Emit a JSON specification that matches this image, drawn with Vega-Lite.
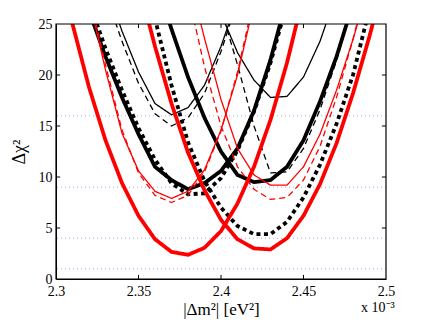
{
"$schema": "https://vega.github.io/schema/vega-lite/v6.json",
"width": 330, "height": 255,
"autosize": {"type": "none"},
"padding": {"left": 56, "top": 24, "right": 41, "bottom": 43},
"background": "white",
"config": {"view": {"stroke": null}, "font": "Liberation Serif"},
"title": {"text": "x 10⁻³", "orient": "bottom", "anchor": "end", "offset": -16, "fontSize": 14, "fontWeight": "normal", "font": "Liberation Serif", "color": "black"},
"datasets": {
"levels": [{"y": 1}, {"y": 4}, {"y": 9}, {"y": 16}],
"xticks": [{"v": 2.35}, {"v": 2.4}, {"v": 2.45}],
"yticks": [{"v": 5}, {"v": 10}, {"v": 15}, {"v": 20}],
"frame": [{"xa": 2.3, "xb": 2.5, "ya": 0, "yb": 25}],
"curves": [
{"s":"A4","x":2.31,"y":31.5},{"s":"A4","x":2.32,"y":26.3},{"s":"A4","x":2.33,"y":21.8},{"s":"A4","x":2.34,"y":17.8},{"s":"A4","x":2.35,"y":14.2},{"s":"A4","x":2.36,"y":11.0},{"s":"A4","x":2.37,"y":9.7},{"s":"A4","x":2.38,"y":8.8},{"s":"A4","x":2.39,"y":9.4},{"s":"A4","x":2.40,"y":10.6},{"s":"A4","x":2.41,"y":12.8},{"s":"A4","x":2.42,"y":16.5},{"s":"A4","x":2.43,"y":21.5},{"s":"A4","x":2.44,"y":27.5},
{"s":"A5","x":2.31,"y":32.0},{"s":"A5","x":2.32,"y":27.2},{"s":"A5","x":2.33,"y":22.6},{"s":"A5","x":2.34,"y":18.5},{"s":"A5","x":2.35,"y":14.8},{"s":"A5","x":2.36,"y":11.7},{"s":"A5","x":2.37,"y":9.4},{"s":"A5","x":2.38,"y":8.3},{"s":"A5","x":2.39,"y":8.4},{"s":"A5","x":2.40,"y":9.9},{"s":"A5","x":2.41,"y":12.6},{"s":"A5","x":2.42,"y":16.4},{"s":"A5","x":2.43,"y":21.2},{"s":"A5","x":2.44,"y":27.0},
{"s":"A6","x":2.33,"y":29.0},{"s":"A6","x":2.34,"y":24.3},{"s":"A6","x":2.35,"y":20.3},{"s":"A6","x":2.36,"y":17.2},{"s":"A6","x":2.37,"y":16.1},{"s":"A6","x":2.38,"y":16.8},{"s":"A6","x":2.39,"y":19.0},{"s":"A6","x":2.40,"y":22.8},{"s":"A6","x":2.41,"y":27.5},
{"s":"A7","x":2.33,"y":28.0},{"s":"A7","x":2.34,"y":23.3},{"s":"A7","x":2.35,"y":19.2},{"s":"A7","x":2.36,"y":16.2},{"s":"A7","x":2.37,"y":15.0},{"s":"A7","x":2.38,"y":15.8},{"s":"A7","x":2.39,"y":18.2},{"s":"A7","x":2.40,"y":22.3},{"s":"A7","x":2.41,"y":27.3},
{"s":"B4","x":2.36,"y":29.5},{"s":"B4","x":2.37,"y":24.5},{"s":"B4","x":2.38,"y":19.8},{"s":"B4","x":2.39,"y":15.8},{"s":"B4","x":2.40,"y":12.5},{"s":"B4","x":2.41,"y":10.2},{"s":"B4","x":2.42,"y":9.5},{"s":"B4","x":2.43,"y":9.7},{"s":"B4","x":2.44,"y":11.0},{"s":"B4","x":2.45,"y":13.6},{"s":"B4","x":2.46,"y":17.4},{"s":"B4","x":2.47,"y":21.8},{"s":"B4","x":2.48,"y":27.0},
{"s":"B5","x":2.35,"y":32.0},{"s":"B5","x":2.36,"y":25.5},{"s":"B5","x":2.37,"y":19.0},{"s":"B5","x":2.38,"y":13.4},{"s":"B5","x":2.39,"y":9.6},{"s":"B5","x":2.40,"y":7.0},{"s":"B5","x":2.41,"y":5.2},{"s":"B5","x":2.42,"y":4.4},{"s":"B5","x":2.43,"y":4.4},{"s":"B5","x":2.44,"y":5.6},{"s":"B5","x":2.45,"y":8.0},{"s":"B5","x":2.46,"y":11.2},{"s":"B5","x":2.47,"y":15.2},{"s":"B5","x":2.48,"y":20.0},{"s":"B5","x":2.49,"y":26.5},
{"s":"B6","x":2.39,"y":31.0},{"s":"B6","x":2.40,"y":26.0},{"s":"B6","x":2.41,"y":22.2},{"s":"B6","x":2.42,"y":19.5},{"s":"B6","x":2.43,"y":17.8},{"s":"B6","x":2.44,"y":17.9},{"s":"B6","x":2.45,"y":19.8},{"s":"B6","x":2.46,"y":23.3},{"s":"B6","x":2.47,"y":28.0},
{"s":"B7","x":2.39,"y":32.0},{"s":"B7","x":2.40,"y":26.5},{"s":"B7","x":2.41,"y":21.0},{"s":"B7","x":2.42,"y":15.0},{"s":"B7","x":2.43,"y":10.4},{"s":"B7","x":2.44,"y":10.5},{"s":"B7","x":2.45,"y":12.8},{"s":"B7","x":2.46,"y":16.6},{"s":"B7","x":2.47,"y":21.4},{"s":"B7","x":2.48,"y":27.0},
{"s":"A2","x":2.32,"y":27.5},{"s":"A2","x":2.33,"y":20.5},{"s":"A2","x":2.34,"y":14.3},{"s":"A2","x":2.35,"y":10.6},{"s":"A2","x":2.36,"y":8.6},{"s":"A2","x":2.37,"y":7.9},{"s":"A2","x":2.38,"y":8.6},{"s":"A2","x":2.39,"y":10.7},{"s":"A2","x":2.40,"y":14.6},{"s":"A2","x":2.41,"y":20.0},{"s":"A2","x":2.42,"y":27.0},
{"s":"A3","x":2.32,"y":28.0},{"s":"A3","x":2.33,"y":21.0},{"s":"A3","x":2.34,"y":14.6},{"s":"A3","x":2.35,"y":10.4},{"s":"A3","x":2.36,"y":8.2},{"s":"A3","x":2.37,"y":7.5},{"s":"A3","x":2.38,"y":8.2},{"s":"A3","x":2.39,"y":10.5},{"s":"A3","x":2.40,"y":14.5},{"s":"A3","x":2.41,"y":20.3},{"s":"A3","x":2.42,"y":27.5},
{"s":"B2","x":2.38,"y":30.0},{"s":"B2","x":2.39,"y":23.6},{"s":"B2","x":2.40,"y":17.6},{"s":"B2","x":2.41,"y":12.8},{"s":"B2","x":2.42,"y":10.2},{"s":"B2","x":2.43,"y":9.2},{"s":"B2","x":2.44,"y":9.2},{"s":"B2","x":2.45,"y":11.0},{"s":"B2","x":2.46,"y":14.2},{"s":"B2","x":2.47,"y":18.5},{"s":"B2","x":2.48,"y":23.5},{"s":"B2","x":2.49,"y":29.0},
{"s":"B3","x":2.37,"y":35.0},{"s":"B3","x":2.38,"y":28.0},{"s":"B3","x":2.39,"y":20.8},{"s":"B3","x":2.40,"y":15.0},{"s":"B3","x":2.41,"y":11.0},{"s":"B3","x":2.42,"y":8.8},{"s":"B3","x":2.43,"y":7.8},{"s":"B3","x":2.44,"y":8.0},{"s":"B3","x":2.45,"y":9.7},{"s":"B3","x":2.46,"y":13.0},{"s":"B3","x":2.47,"y":17.8},{"s":"B3","x":2.48,"y":23.5},{"s":"B3","x":2.49,"y":30.0},
{"s":"A1","x":2.30,"y":32.2},{"s":"A1","x":2.31,"y":25.0},{"s":"A1","x":2.32,"y":18.8},{"s":"A1","x":2.33,"y":13.6},{"s":"A1","x":2.34,"y":9.4},{"s":"A1","x":2.35,"y":6.2},{"s":"A1","x":2.36,"y":3.9},{"s":"A1","x":2.37,"y":2.66},{"s":"A1","x":2.38,"y":2.37},{"s":"A1","x":2.39,"y":3.06},{"s":"A1","x":2.40,"y":4.7},{"s":"A1","x":2.41,"y":7.4},{"s":"A1","x":2.42,"y":11.0},{"s":"A1","x":2.43,"y":15.6},{"s":"A1","x":2.44,"y":21.2},{"s":"A1","x":2.45,"y":27.8},
{"s":"B1","x":2.35,"y":29.0},{"s":"B1","x":2.36,"y":22.8},{"s":"B1","x":2.37,"y":17.2},{"s":"B1","x":2.38,"y":12.4},{"s":"B1","x":2.39,"y":8.7},{"s":"B1","x":2.40,"y":5.8},{"s":"B1","x":2.41,"y":3.9},{"s":"B1","x":2.42,"y":3.0},{"s":"B1","x":2.43,"y":2.9},{"s":"B1","x":2.44,"y":4.0},{"s":"B1","x":2.45,"y":6.2},{"s":"B1","x":2.46,"y":9.3},{"s":"B1","x":2.47,"y":13.3},{"s":"B1","x":2.48,"y":18.2},{"s":"B1","x":2.49,"y":23.8},{"s":"B1","x":2.50,"y":30.0}
]
},
"layer": [
{
"data": {"name": "levels"},
"mark": {"type": "rule", "color": "#6a6aff", "strokeWidth": 1, "strokeDash": [1, 3], "opacity": 0.6},
"encoding": {"y": {"field": "y", "type": "quantitative", "scale": {"domain": [0, 25], "nice": false}, "axis": null}}
},
{
"data": {"name": "curves"},
"mark": {"type": "line", "clip": true, "strokeCap": "butt", "strokeJoin": "round"},
"encoding": {
"x": {"field": "x", "type": "quantitative", "scale": {"domain": [2.3, 2.5], "nice": false, "zero": false},
"axis": {"orient": "bottom", "values": [2.3, 2.35, 2.4, 2.45, 2.5], "format": "~g", "grid": false, "ticks": false, "domainColor": "black", "labelFlush": false, "labelOverlap": false, "labelFont": "Liberation Serif", "labelFontSize": 14, "labelColor": "black", "labelPadding": 5, "title": "|Δm²| [eV²]", "titleFont": "Liberation Serif", "titleFontSize": 17, "titleFontWeight": "normal", "titleColor": "black", "titlePadding": 3}},
"y": {"field": "y", "type": "quantitative", "scale": {"domain": [0, 25], "nice": false},
"axis": {"orient": "left", "values": [0, 5, 10, 15, 20, 25], "grid": false, "ticks": false, "domainColor": "black", "labelFlush": false, "labelOverlap": false, "labelFont": "Liberation Serif", "labelFontSize": 14, "labelColor": "black", "labelPadding": 4, "title": "Δχ²", "titleFont": "Liberation Serif", "titleFontSize": 18, "titleFontWeight": "normal", "titleColor": "black", "titlePadding": 10}},
"detail": {"field": "s", "type": "nominal"},
"color": {"field": "s", "type": "nominal", "legend": null,
"scale": {"domain": ["A1","A2","A3","A4","A5","A6","A7","B1","B2","B3","B4","B5","B6","B7"],
"range": ["#ff0000","#ff0000","#ff0000","#000000","#000000","#000000","#000000","#ff0000","#ff0000","#ff0000","#000000","#000000","#000000","#000000"]}},
"strokeWidth": {"field": "s", "type": "nominal", "legend": null,
"scale": {"type": "ordinal", "domain": ["A1","A2","A3","A4","A5","A6","A7","B1","B2","B3","B4","B5","B6","B7"],
"range": [3.8,1.3,1.3,3.8,3.8,1.3,1.3,3.8,1.3,1.3,3.8,3.8,1.3,1.3]}},
"strokeDash": {"field": "s", "type": "nominal", "legend": null,
"scale": {"domain": ["A1","A2","A3","A4","A5","A6","A7","B1","B2","B3","B4","B5","B6","B7"],
"range": [[1,0],[1,0],[6,4],[1,0],[4,3.5],[1,0],[6,4],[1,0],[1,0],[6,4],[1,0],[4,3.5],[1,0],[6,4]]}}
}
},
{
"data": {"name": "frame"},
"mark": {"type": "rect", "filled": false, "stroke": "black", "strokeWidth": 1.2, "fillOpacity": 0},
"encoding": {
"x": {"field": "xa", "type": "quantitative", "axis": null},
"x2": {"field": "xb"},
"y": {"field": "ya", "type": "quantitative", "axis": null},
"y2": {"field": "yb"}
}
},
{
"data": {"name": "xticks"},
"mark": {"type": "rule", "color": "black", "strokeWidth": 1},
"encoding": {"x": {"field": "v", "type": "quantitative", "axis": null}, "y": {"datum": 0, "axis": null}, "y2": {"datum": 0.4}}
},
{
"data": {"name": "xticks"},
"mark": {"type": "rule", "color": "black", "strokeWidth": 1},
"encoding": {"x": {"field": "v", "type": "quantitative", "axis": null}, "y": {"datum": 25, "axis": null}, "y2": {"datum": 24.6}}
},
{
"data": {"name": "yticks"},
"mark": {"type": "rule", "color": "black", "strokeWidth": 1},
"encoding": {"y": {"field": "v", "type": "quantitative", "axis": null}, "x": {"datum": 2.3, "axis": null}, "x2": {"datum": 2.3025}}
},
{
"data": {"name": "yticks"},
"mark": {"type": "rule", "color": "black", "strokeWidth": 1},
"encoding": {"y": {"field": "v", "type": "quantitative", "axis": null}, "x": {"datum": 2.5, "axis": null}, "x2": {"datum": 2.4975}}
}
],
"resolve": {"axis": {"x": "independent", "y": "independent"}}
}
